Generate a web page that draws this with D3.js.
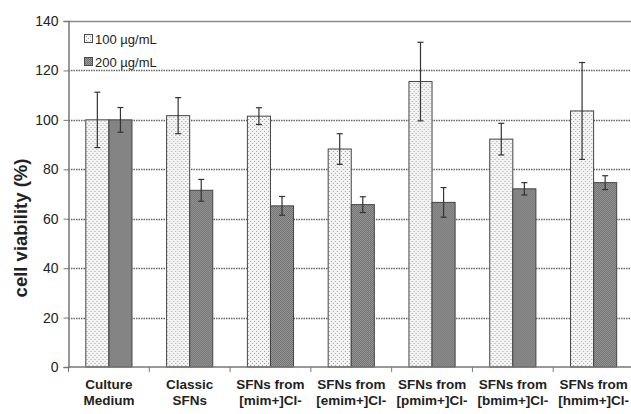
<!DOCTYPE html>
<html>
<head>
<meta charset="utf-8">
<script src="https://cdn.jsdelivr.net/npm/d3@7"></script>
<style>
  body { margin: 0; background: #fff; }
  svg { display: block; font-family: "Liberation Sans", Arial, sans-serif; }
</style>
</head>
<body>
<svg id="chart" width="631" height="414"></svg>
<script>
// data
var categories = [
  ["Culture", "Medium"],
  ["Classic", "SFNs"],
  ["SFNs from", "[mim+]Cl-"],
  ["SFNs from", "[emim+]Cl-"],
  ["SFNs from", "[pmim+]Cl-"],
  ["SFNs from", "[bmim+]Cl-"],
  ["SFNs from", "[hmim+]Cl-"]
];
var seriesNames = ["100 µg/mL", "200 µg/mL"];
var values100 = [100, 101.7, 101.5, 88.2, 115.5, 92.2, 103.6];
var errors100 = [11.2, 7.3, 3.4, 6.2, 15.9, 6.4, 19.6];
var values200 = [100, 71.5, 65.2, 65.7, 66.6, 72.1, 74.6];
var errors200 = [5, 4.4, 3.8, 3.2, 6, 2.5, 2.8];
var yTicks = [0, 20, 40, 60, 80, 100, 120, 140];

var svg = d3.select("#chart");
var margin = {left: 68.5, right: -3, top: 21, bottom: 47};
var width = 631 - margin.left - margin.right,
    height = 414 - margin.top - margin.bottom;

// patterns
var defs = svg.append("defs");
var p1 = defs.append("pattern").attr("id", "dots")
  .attr("patternUnits", "userSpaceOnUse").attr("width", 4).attr("height", 4);
p1.append("rect").attr("width", 4).attr("height", 4).attr("fill", "#f4f4f4");
p1.append("rect").attr("x", 0).attr("y", 0).attr("width", 1).attr("height", 1).attr("fill", "#a0a0a0");
p1.append("rect").attr("x", 2).attr("y", 2).attr("width", 1).attr("height", 1).attr("fill", "#a0a0a0");

var p2 = defs.append("pattern").attr("id", "hatch")
  .attr("patternUnits", "userSpaceOnUse").attr("width", 2).attr("height", 2);
p2.append("rect").attr("width", 2).attr("height", 2).attr("fill", "#6e6e6e");
p2.append("rect").attr("x", 0).attr("y", 0).attr("width", 1).attr("height", 1).attr("fill", "#9a9a9a");
p2.append("rect").attr("x", 1).attr("y", 1).attr("width", 1).attr("height", 1).attr("fill", "#9a9a9a");

var fills = ["url(#dots)", "url(#hatch)"];

var g = svg.append("g").attr("transform", "translate(" + margin.left + "," + margin.top + ")");

var x = d3.scaleBand().domain(d3.range(categories.length)).range([0, width]);
var xs = d3.scaleBand().domain([0, 1]).range([0, x.bandwidth()]).paddingInner(0).paddingOuter(0.75);
var y = d3.scaleLinear().domain([0, 140]).range([height, 0]);

// grid
g.selectAll(".grid").data(yTicks.filter(function(d) { return d > 0 && d < 140; }))
  .enter().append("line")
  .attr("x1", 0).attr("x2", width)
  .attr("y1", function(d) { return Math.round(y(d)) + 0.5; })
  .attr("y2", function(d) { return Math.round(y(d)) + 0.5; })
  .attr("stroke", "#666").attr("stroke-width", 1.3).attr("stroke-dasharray", "1.5,1");

// top line
g.append("line").attr("x1", 0).attr("x2", width)
  .attr("y1", Math.round(y(140)) + 0.5).attr("y2", Math.round(y(140)) + 0.5)
  .attr("stroke", "#888").attr("stroke-width", 1.5);

// bars
var rows = categories.map(function(c, i) {
  return [
    {i: i, s: 0, v: values100[i], e: errors100[i]},
    {i: i, s: 1, v: values200[i], e: errors200[i]}
  ];
});

var grp = g.selectAll(".grp").data(rows).enter().append("g")
  .attr("transform", function(d, i) { return "translate(" + x(i) + ",0)"; });

grp.selectAll("rect").data(function(d) { return d; }).enter().append("rect")
  .attr("x", function(d) { return xs(d.s); })
  .attr("width", xs.bandwidth())
  .attr("y", function(d) { return y(d.v); })
  .attr("height", function(d) { return y(0) - y(d.v); })
  .attr("fill", function(d) { return fills[d.s]; })
  .attr("stroke", "#444").attr("stroke-width", 1);

// error bars
var eb = grp.selectAll(".eb").data(function(d) { return d; }).enter().append("g");
eb.append("line")
  .attr("x1", function(d) { return xs(d.s) + xs.bandwidth() / 2; })
  .attr("x2", function(d) { return xs(d.s) + xs.bandwidth() / 2; })
  .attr("y1", function(d) { return y(d.v + d.e); })
  .attr("y2", function(d) { return y(d.v - d.e); })
  .attr("stroke", "#333").attr("stroke-width", 1.2);
[1, -1].forEach(function(sgn) {
  eb.append("line")
    .attr("x1", function(d) { return xs(d.s) + xs.bandwidth() / 2 - 3; })
    .attr("x2", function(d) { return xs(d.s) + xs.bandwidth() / 2 + 3; })
    .attr("y1", function(d) { return y(d.v + sgn * d.e); })
    .attr("y2", function(d) { return y(d.v + sgn * d.e); })
    .attr("stroke", "#333").attr("stroke-width", 1.2);
});

// y axis
var yAxis = g.append("g")
  .call(d3.axisLeft(y).tickValues(yTicks).tickSize(5).tickPadding(5));
yAxis.select(".domain").attr("stroke", "#777").attr("stroke-width", 1.5);
yAxis.selectAll(".tick line").attr("stroke", "#777");
yAxis.selectAll(".tick text").attr("font-size", 14).attr("fill", "#222")
  .attr("font-family", "Liberation Sans, Arial, sans-serif");

// x axis
var xAxis = g.append("g").attr("transform", "translate(0," + height + ")");
xAxis.append("line").attr("x1", 0).attr("x2", width).attr("y1", 0).attr("y2", 0)
  .attr("stroke", "#777").attr("stroke-width", 1.5);
xAxis.selectAll(".xt").data(d3.range(categories.length + 1)).enter().append("line")
  .attr("x1", function(d) { return d * x.step(); })
  .attr("x2", function(d) { return d * x.step(); })
  .attr("y1", 0).attr("y2", 5).attr("stroke", "#777");
var xl = xAxis.selectAll(".xl").data(categories).enter().append("text")
  .attr("text-anchor", "middle").attr("font-size", 13.5).attr("font-weight", "bold").attr("fill", "#222")
  .attr("transform", function(d, i) { return "translate(" + (x(i) + x.bandwidth() / 2) + ",0)"; });
xl.append("tspan").attr("x", 0).attr("y", 22).text(function(d) { return d[0]; });
xl.append("tspan").attr("x", 0).attr("y", 38).text(function(d) { return d[1]; });

// y label
svg.append("text")
  .attr("transform", "translate(27,228) rotate(-90)")
  .attr("text-anchor", "middle").attr("font-size", 18.5).attr("font-weight", "bold").attr("fill", "#222")
  .text("cell viability (%)");

// legend
var leg = svg.append("g").attr("transform", "translate(84,34)");
seriesNames.forEach(function(name, i) {
  var row = leg.append("g").attr("transform", "translate(0," + (i * 23) + ")");
  row.append("rect").attr("x", 0.5).attr("y", 0.5).attr("width", 8).attr("height", 8)
    .attr("fill", fills[i]).attr("stroke", "#4a4a4a");
  row.append("text").attr("x", 11).attr("y", 9.5).attr("font-size", 13).attr("fill", "#222").text(name);
});
</script>
</body>
</html>
